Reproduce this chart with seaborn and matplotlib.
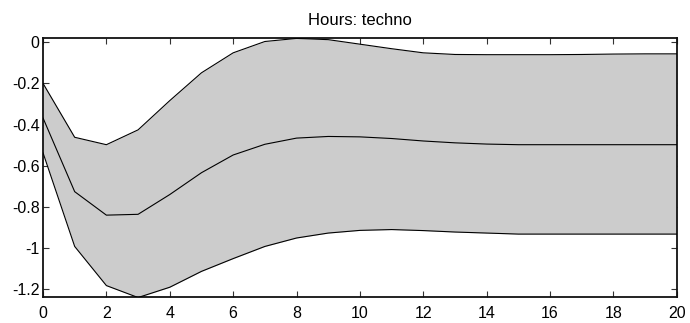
import numpy as np
import pandas as pd
import matplotlib
matplotlib.use("Agg")
import matplotlib.pyplot as plt
from matplotlib.ticker import FuncFormatter
import seaborn as sns

horizon = list(range(21))
upper = [-0.20, -0.462, -0.498, -0.426, -0.284, -0.149, -0.052, 0.003, 0.018, 0.012,
         -0.010, -0.032, -0.052, -0.060, -0.061, -0.061, -0.061, -0.060, -0.058, -0.057, -0.057]
median = [-0.368, -0.726, -0.840, -0.836, -0.740, -0.634, -0.548, -0.496, -0.466, -0.458,
          -0.460, -0.468, -0.480, -0.489, -0.495, -0.498, -0.498, -0.498, -0.498, -0.498, -0.498]
lower = [-0.537, -0.992, -1.182, -1.240, -1.190, -1.113, -1.051, -0.992, -0.951, -0.927,
         -0.914, -0.910, -0.915, -0.922, -0.927, -0.932, -0.932, -0.932, -0.932, -0.932, -0.932]
title = "Hours: techno"
xticks = list(range(0, 21, 2))
yticks = [0, -0.2, -0.4, -0.6, -0.8, -1.0, -1.2]

sns.set_theme(style="white")
plt.rcParams["font.family"] = ["Liberation Sans", "DejaVu Sans"]

df = pd.DataFrame({"h": horizon, "upper": upper, "median": median, "lower": lower})

fig = plt.figure(figsize=(6.9, 3.23), dpi=100)
ax = fig.add_axes([0.0623, 0.0814, 0.981 - 0.0623, 0.883 - 0.0814])

ax.fill_between(df["h"], df["lower"], df["upper"], color="#cccccc", linewidth=0, zorder=1)
for col in ["upper", "median", "lower"]:
    sns.lineplot(data=df, x="h", y=col, ax=ax, color="black", linewidth=0.8, zorder=3)

ax.set_xlim(0, 20)
ax.set_ylim(-1.236, 0.021)
ax.set_xticks(xticks)
ax.set_yticks(yticks)


def fmt(v, pos):
    s = "%g" % round(v, 4)
    if s == "-0":
        s = "0"
    return s


ax.yaxis.set_major_formatter(FuncFormatter(fmt))
ax.set_xlabel("")
ax.set_ylabel("")
ax.tick_params(axis="both", direction="in", length=4, width=0.8, color="#333333",
               top=True, right=True, bottom=True, left=True, labelsize=11.5, colors="black")
ax.tick_params(axis="x", pad=7)
ax.tick_params(axis="y", pad=2.5)
for s in ax.spines.values():
    s.set_visible(True)
    s.set_color("#111111")
    s.set_linewidth(1.3)
ax.set_facecolor("white")
ax.set_title(title, fontsize=12, pad=9, color="black")

fig.savefig("out.png", dpi=100)
